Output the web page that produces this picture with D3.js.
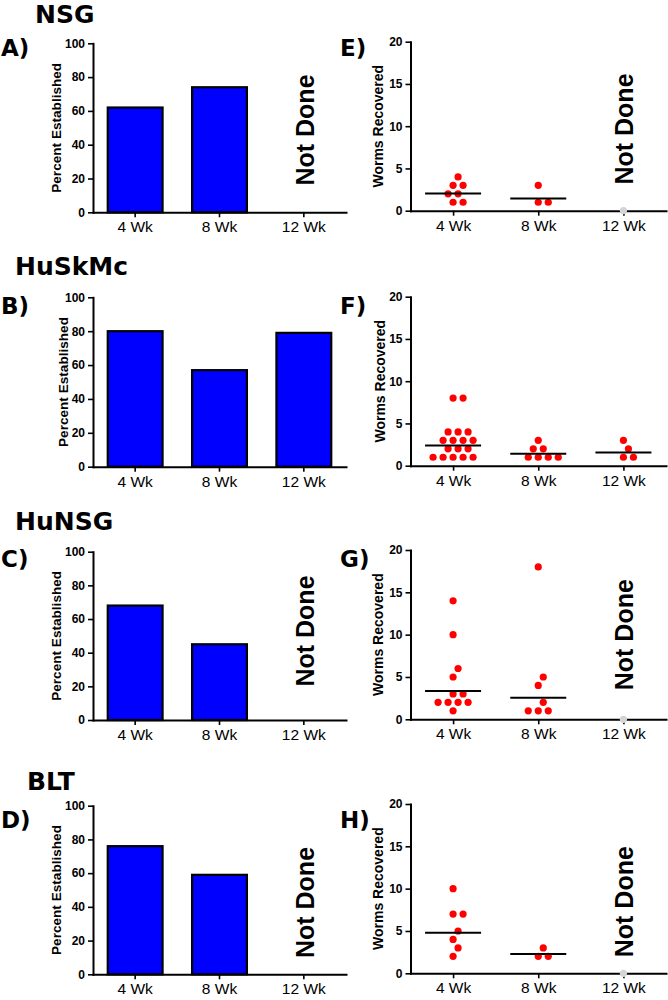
<!DOCTYPE html>
<html>
<head>
<meta charset="utf-8">
<script src="https://cdn.jsdelivr.net/npm/d3@7"></script>
<style>
  body { margin: 0; background: #fff; }
  svg { display: block; }
  text { font-family: "Liberation Sans", Arial, sans-serif; fill: #000; }
  .domain { stroke: #000; stroke-width: 2; stroke-linecap: square; }
  .tick line { stroke: #000; stroke-width: 1.6; }
</style>
</head>
<body>
<div id="chart"></div>
<script>
// Categories
const weeks = ["4 Wk", "8 Wk", "12 Wk"];
const strains = ["NSG", "HuSkMc", "HuNSG", "BLT"];

// Percent established (bars), null = not done
const nsgPct = [62, 74, null];
const huskmcPct = [80, 57, 79];
const hunsgPct = [68, 45, null];
const bltPct = [76, 59, null];

// Worms recovered per mouse (dots), null = not done
const nsgWorms = [[2, 3, 1, 3, 1, 4, 2], [1, 3, 1], null];
const huskmcWorms = [[8, 8, 4, 4, 4, 3, 3, 3, 3, 2, 2, 2, 1, 1, 1, 1, 1], [3, 2, 2, 1, 1, 1, 1], [3, 2, 1, 1]];
const hunsgWorms = [[14, 10, 6, 5, 3, 3, 2, 2, 2, 2, 1], [18, 5, 4, 2, 1, 1, 1], null];
const bltWorms = [[10, 7, 7, 5, 4, 3, 2], [3, 2, 2], null];

// Tick values
const pctTicks = [0, 20, 40, 60, 80, 100];
const wormTicks = [0, 5, 10, 15, 20];

const pctSeries = [nsgPct, huskmcPct, hunsgPct, bltPct];
const wormSeries = [nsgWorms, huskmcWorms, hunsgWorms, bltWorms];

// Layout of each row of panels (pixels)
const rows = [
  {title: [35, 22.5], letters: ["A)", "E)"], letterY: 56, bar: [43.3, 212.3], dot: [41.7, 210.7], pctX: 61, wormX: 383, ndBar: 130, ndDot: 129},
  {title: [15, 275], letters: ["B)", "F)"], letterY: 314, bar: [297.3, 466.7], dot: [296.7, 465.7], pctX: 68, wormX: 385, ndBar: 382, ndDot: 381},
  {title: [15, 530], letters: ["C)", "G)"], letterY: 567, bar: [551.7, 720], dot: [550, 719.3], pctX: 61, wormX: 383, ndBar: 631, ndDot: 634.7},
  {title: [27, 790], letters: ["D)", "H)"], letterY: 828, bar: [805.7, 974.3], dot: [804, 973.3], pctX: 61, wormX: 383, ndBar: 902.5, ndDot: 901.7}
];

const svg = d3.select("#chart")
  .append("svg")
    .attr("width", 668)
    .attr("height", 1000);

// Shared x scales
const xBar = d3.scaleBand()
  .domain(weeks)
  .range([93, 346])
  .paddingInner(0.35)
  .paddingOuter(0.175);

const xDot = d3.scalePoint()
  .domain(weeks)
  .range([410.5, 666])
  .padding(0.5);

// Simple beeswarm: place each dot at the nearest free slot to the column centre
function swarm(values, cx, y) {
  const step = 5, minDist = 9.5;
  const placed = [];
  values.slice().sort((a, b) => a - b).forEach(v => {
    const py = y(v);
    for (let k = 0; k < 60; k++) {
      const off = k === 0 ? 0 : (k % 2 ? 1 : -1) * Math.ceil(k / 2) * step;
      const px = cx + off;
      if (placed.every(p => Math.hypot(p.x - px, p.y - py) >= minDist)) {
        placed.push({x: px, y: py, v: v});
        break;
      }
    }
  });
  return placed;
}

function notDone(g, x, y) {
  g.append("text")
    .attr("transform", `translate(${x},${y}) rotate(-90)`)
    .attr("text-anchor", "middle")
    .style("font-size", "25px")
    .style("font-weight", "bold")
    .text("Not Done");
}

function styleTicks(axisG, size, weight) {
  axisG.selectAll(".tick text")
    .style("font-size", size)
    .style("font-weight", weight)
    .style("fill", "#000");
}

rows.forEach((row, i) => {
  const g = svg.append("g");

  // Strain title
  g.append("text")
    .attr("x", row.title[0])
    .attr("y", row.title[1])
    .style("font-family", "'DejaVu Sans', sans-serif")
    .style("font-size", "25px")
    .style("font-weight", "bold")
    .text(strains[i]);

  // Panel letters
  [1, 340].forEach((lx, j) => {
    g.append("text")
      .attr("x", lx)
      .attr("y", row.letterY)
      .style("font-family", "'DejaVu Sans', sans-serif")
      .style("font-size", "23px")
      .style("font-weight", "bold")
      .text(row.letters[j]);
  });

  // ---- Bar panel: percent established
  const yBar = d3.scaleLinear().domain([0, 100]).range([row.bar[1], row.bar[0]]);
  const pct = pctSeries[i];

  g.selectAll(".bar" + i)
    .data(weeks.map((w, k) => ({week: w, value: pct[k]})).filter(d => d.value != null))
    .join("rect")
    .attr("x", d => xBar(d.week))
    .attr("y", d => yBar(d.value))
    .attr("width", xBar.bandwidth())
    .attr("height", d => yBar(0) - yBar(d.value))
    .attr("fill", "#0000ff")
    .attr("stroke", "#000")
    .attr("stroke-width", 2.2);

  const ya = g.append("g")
    .attr("transform", "translate(93,0)")
    .call(d3.axisLeft(yBar).tickValues(pctTicks).tickSize(5).tickSizeOuter(0).tickPadding(3));
  styleTicks(ya, "12px", "bold");

  const xa = g.append("g")
    .attr("transform", `translate(0,${row.bar[1]})`)
    .call(d3.axisBottom(xBar).tickSize(5).tickSizeOuter(0).tickPadding(4));
  styleTicks(xa, "15.5px", "normal");

  g.append("text")
    .attr("transform", `translate(${row.pctX},${(row.bar[0] + row.bar[1]) / 2}) rotate(-90)`)
    .attr("text-anchor", "middle")
    .style("font-size", "13.6px")
    .style("font-weight", "bold")
    .text("Percent Established");

  weeks.forEach((w, k) => {
    if (pct[k] == null) notDone(g, xBar(w) + xBar.bandwidth() / 2 + 10, row.ndBar);
  });

  // ---- Dot panel: worms recovered
  const yDot = d3.scaleLinear().domain([0, 20]).range([row.dot[1], row.dot[0]]);
  const worms = wormSeries[i];

  const ya2 = g.append("g")
    .attr("transform", "translate(410.5,0)")
    .call(d3.axisLeft(yDot).tickValues(wormTicks).tickSize(5).tickSizeOuter(0).tickPadding(3));
  styleTicks(ya2, "12px", "bold");

  const xa2 = g.append("g")
    .attr("transform", `translate(0,${row.dot[1]})`)
    .call(d3.axisBottom(xDot).tickSize(5).tickSizeOuter(0).tickPadding(4));
  styleTicks(xa2, "15.5px", "normal");

  g.append("text")
    .attr("transform", `translate(${row.wormX},${(row.dot[0] + row.dot[1]) / 2}) rotate(-90)`)
    .attr("text-anchor", "middle")
    .style("font-size", "14px")
    .style("font-weight", "bold")
    .text("Worms Recovered");

  weeks.forEach((w, k) => {
    const vals = worms[k];
    const cx = xDot(w);
    if (vals == null) {
      // grey placeholder at zero, plus the annotation
      g.append("circle")
        .attr("cx", cx)
        .attr("cy", yDot(0))
        .attr("r", 3.6)
        .attr("fill", "#d4d4d4");
      notDone(g, cx + 9.5, row.ndDot);
      return;
    }
    g.selectAll(".dot" + i + "_" + k)
      .data(swarm(vals, cx, yDot))
      .join("circle")
      .attr("cx", d => d.x)
      .attr("cy", d => d.y)
      .attr("r", 3.6)
      .attr("fill", "#ff0000");

    // geometric mean line
    const gm = Math.exp(d3.mean(vals, v => Math.log(v)));
    g.append("line")
      .attr("x1", cx - 28)
      .attr("x2", cx + 28)
      .attr("y1", yDot(gm))
      .attr("y2", yDot(gm))
      .attr("stroke", "#000")
      .attr("stroke-width", 2);
  });
});
</script>
</body>
</html>
